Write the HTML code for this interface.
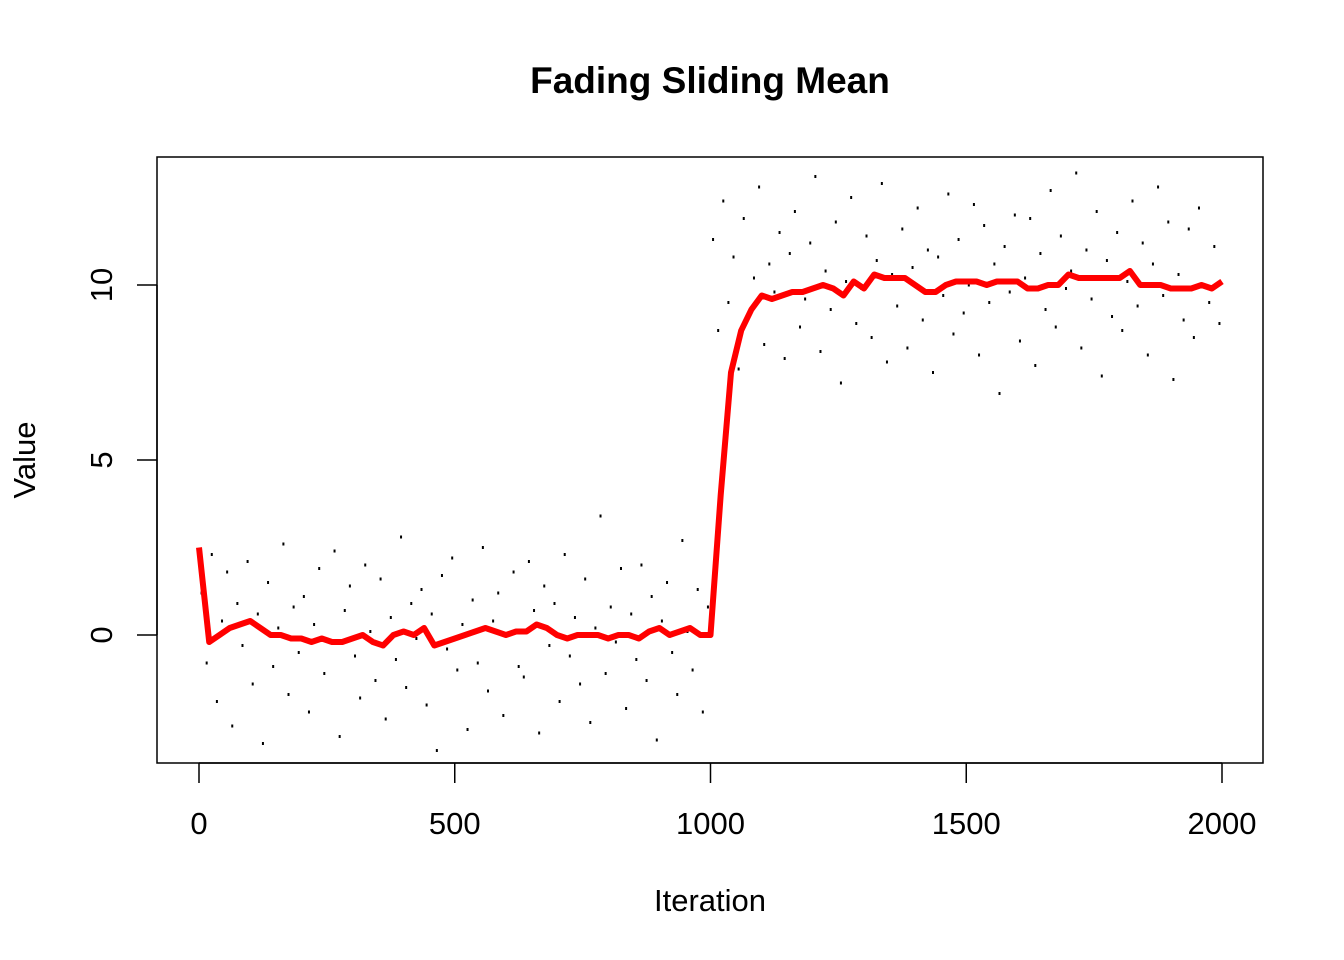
<!DOCTYPE html>
<html><head><meta charset="utf-8"><style>
body{margin:0;background:#fff}
svg{display:block;font-family:"Liberation Sans",Arial,sans-serif}
</style></head><body>
<svg id="chart" width="1344" height="960" xmlns="http://www.w3.org/2000/svg">
<rect width="1344" height="960" fill="#fff"/>
<text x="710" y="93" font-size="37" font-weight="bold" text-anchor="middle">Fading Sliding Mean</text>
<g id="pts"></g>
<g id="mean"></g>
<rect x="157" y="157" width="1106" height="606" fill="none" stroke="#000" stroke-width="1.5"/>
<g id="xax"></g>
<g id="yax"></g>
<text x="710" y="911" font-size="31" text-anchor="middle">Iteration</text>
<text transform="translate(35,460) rotate(-90)" font-size="31" text-anchor="middle">Value</text>
</svg>
<script>
const xTicks=[0,500,1000,1500,2000];
const yTicks=[0,5,10];
const meanStep=20;
const meanValues=[2.5,-0.2,0.0,0.2,0.3,0.4,0.2,0.0,0.0,-0.1,-0.1,-0.2,-0.1,-0.2,-0.2,-0.1,0.0,-0.2,-0.3,0.0,0.1,0.0,0.2,-0.3,-0.2,-0.1,0.0,0.1,0.2,0.1,0.0,0.1,0.1,0.3,0.2,0.0,-0.1,0.0,0.0,0.0,-0.1,0.0,0.0,-0.1,0.1,0.2,0.0,0.1,0.2,0.0,0.0,4.0,7.5,8.7,9.3,9.7,9.6,9.7,9.8,9.8,9.9,10.0,9.9,9.7,10.1,9.9,10.3,10.2,10.2,10.2,10.0,9.8,9.8,10.0,10.1,10.1,10.1,10.0,10.1,10.1,10.1,9.9,9.9,10.0,10.0,10.3,10.2,10.2,10.2,10.2,10.2,10.4,10.0,10.0,10.0,9.9,9.9,9.9,10.0,9.9,10.1];
const rawLow=[1.2,-0.8,2.3,-1.9,0.4,1.8,-2.6,0.9,-0.3,2.1,-1.4,0.6,-3.1,1.5,-0.9,0.2,2.6,-1.7,0.8,-0.5,1.1,-2.2,0.3,1.9,-1.1,-0.2,2.4,-2.9,0.7,1.4,-0.6,-1.8,2.0,0.1,-1.3,1.6,-2.4,0.5,-0.7,2.8,-1.5,0.9,-0.1,1.3,-2.0,0.6,-3.3,1.7,-0.4,2.2,-1.0,0.3,-2.7,1.0,-0.8,2.5,-1.6,0.4,1.2,-2.3,0.0,1.8,-0.9,-1.2,2.1,0.7,-2.8,1.4,-0.3,0.9,-1.9,2.3,-0.6,0.5,-1.4,1.6,-2.5,0.2,3.4,-1.1,0.8,-0.2,1.9,-2.1,0.6,-0.7,2.0,-1.3,1.1,-3.0,0.4,1.5,-0.5,-1.7,2.7,0.1,-1.0,1.3,-2.2,0.8];
const rawHigh=[11.3,8.7,12.4,9.5,10.8,7.6,11.9,9.1,10.2,12.8,8.3,10.6,9.8,11.5,7.9,10.9,12.1,8.8,9.6,11.2,13.1,8.1,10.4,9.3,11.8,7.2,10.1,12.5,8.9,9.9,11.4,8.5,10.7,12.9,7.8,10.3,9.4,11.6,8.2,10.5,12.2,9.0,11.0,7.5,10.8,9.7,12.6,8.6,11.3,9.2,10.0,12.3,8.0,11.7,9.5,10.6,6.9,11.1,9.8,12.0,8.4,10.2,11.9,7.7,10.9,9.3,12.7,8.8,11.4,9.9,10.4,13.2,8.2,11.0,9.6,12.1,7.4,10.7,9.1,11.5,8.7,10.1,12.4,9.4,11.2,8.0,10.6,12.8,9.7,11.8,7.3,10.3,9.0,11.6,8.5,12.2,10.0,9.5,11.1,8.9];
const X=v=>199+(v/2000)*1023, Y=v=>635-v*35;
const NS="http://www.w3.org/2000/svg";
function mk(tag,attrs,parent){const e=document.createElementNS(NS,tag);for(const k in attrs)e.setAttribute(k,attrs[k]);parent.appendChild(e);return e;}
const pts=document.getElementById('pts');
rawLow.forEach((v,i)=>{const it=(i+0.5)*1000/rawLow.length;
 const r=mk('rect',{x:X(it)-1,y:Y(v)-1.5,width:2,height:3,fill:'#000'},pts);
 
 });
rawHigh.forEach((v,i)=>{const it=1000+(i+0.5)*1000/rawHigh.length;
 const r=mk('rect',{x:X(it)-1,y:Y(v)-1.5,width:2,height:3,fill:'#000'},pts);
 
 });
const mean=document.getElementById('mean');
const d=meanValues.map((v,i)=>(i?'L':'M')+X(i*meanStep).toFixed(1)+','+Y(v).toFixed(1)).join(' ');
const pl=mk('path',{d:d,fill:'none',stroke:'#f00','stroke-width':6,'stroke-linejoin':'round'},mean);


const xax=document.getElementById('xax');
mk('line',{x1:X(xTicks[0]),x2:X(xTicks[xTicks.length-1]),y1:763,y2:763,stroke:'#000','stroke-width':1.5},xax);
xTicks.forEach(t=>{mk('line',{x1:X(t),x2:X(t),y1:763,y2:783,stroke:'#000','stroke-width':1.5},xax);
 const tx=mk('text',{x:X(t),y:834,'font-size':31,'text-anchor':'middle'},xax);tx.textContent=t;
 
 });
const yax=document.getElementById('yax');
mk('line',{x1:157,x2:157,y1:Y(yTicks[0]),y2:Y(yTicks[yTicks.length-1]),stroke:'#000','stroke-width':1.5},yax);
yTicks.forEach(t=>{mk('line',{x1:137,x2:157,y1:Y(t),y2:Y(t),stroke:'#000','stroke-width':1.5},yax);
 const tx=mk('text',{transform:`translate(112,${Y(t)}) rotate(-90)`,'font-size':31,'text-anchor':'middle'},yax);tx.textContent=t;
 
 });
</script>
</body></html>
